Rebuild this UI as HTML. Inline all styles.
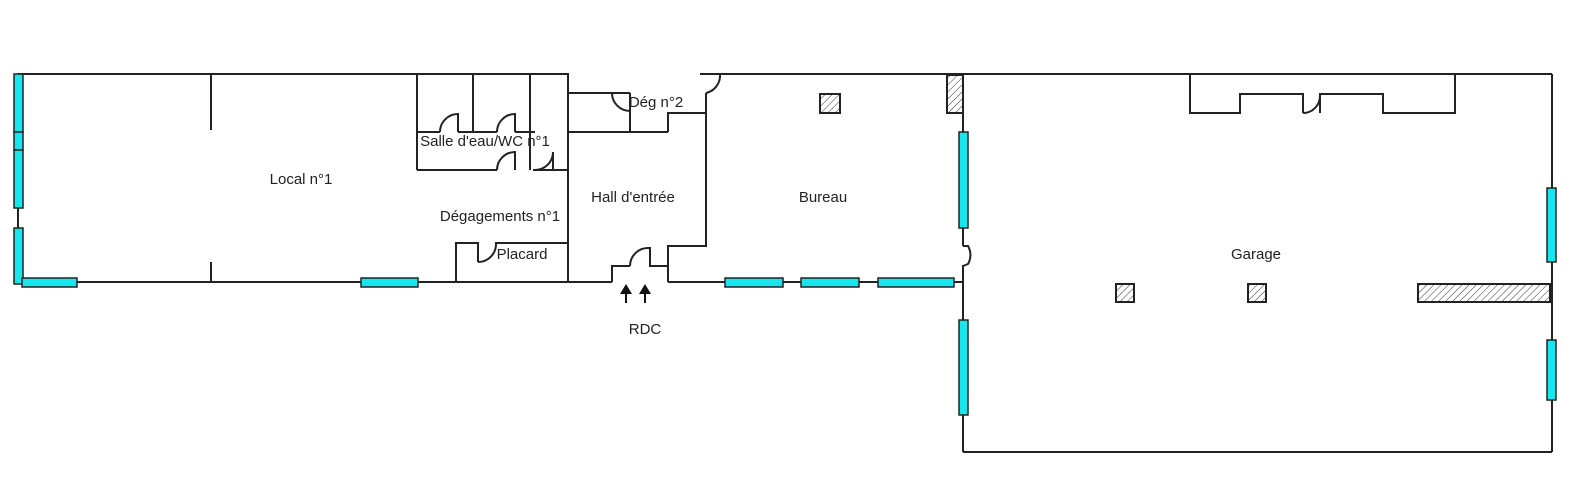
<!DOCTYPE html>
<html><head><meta charset="utf-8"><style>
html,body{margin:0;padding:0;background:#fff;width:1582px;height:480px;overflow:hidden;}
svg{display:block;}
text{font-family:"Liberation Sans",sans-serif;font-size:15px;fill:#222;}
</style></head><body>
<svg width="1582" height="480" viewBox="0 0 1582 480" xmlns="http://www.w3.org/2000/svg">
<defs>
<pattern id="h" width="5" height="5" patternUnits="userSpaceOnUse" patternTransform="rotate(45)">
<rect width="5" height="5" fill="#fff"/><line x1="0" y1="0" x2="0" y2="5" stroke="#333" stroke-width="1"/>
</pattern>
</defs>
<g stroke="#222" stroke-width="2" fill="none">
<polyline points="18,74 568,74 568,282"/>
<line x1="18" y1="74" x2="18" y2="282"/>
<line x1="18" y1="282" x2="612" y2="282"/>
<line x1="211" y1="74" x2="211" y2="130"/>
<line x1="211" y1="262" x2="211" y2="282"/>
<line x1="417" y1="74" x2="417" y2="170"/>
<line x1="473" y1="74" x2="473" y2="132"/>
<line x1="530" y1="74" x2="530" y2="170"/>
<line x1="417" y1="132" x2="440" y2="132"/>
<path d="M440,132 A18,18 0 0 1 458,114 L458,132"/>
<line x1="458" y1="132" x2="497" y2="132"/>
<path d="M497,132 A18,18 0 0 1 515,114 L515,132"/>
<line x1="515" y1="132" x2="535" y2="132"/>
<line x1="417" y1="170" x2="497" y2="170"/>
<path d="M497,170 A18,18 0 0 1 515,152 L515,170"/>
<path d="M535,170 A18,18 0 0 0 553,152 L553,170 M533,170 L568,170"/>
<polyline points="456,282 456,243 478,243 478,262"/>
<path d="M478,262 A18,18 0 0 0 496,243 L568,243"/>
<line x1="568" y1="93" x2="630" y2="93"/>
<path d="M612,93 A18,18 0 0 0 630,111"/>
<line x1="630" y1="93" x2="630" y2="132"/>
<line x1="568" y1="132" x2="668" y2="132"/>
<polyline points="668,132 668,113 706,113 706,93"/>
<path d="M706,93 A18,18 0 0 0 720,74"/>
<line x1="700" y1="74" x2="1552" y2="74"/>
<polyline points="706,113 706,246 668,246 668,282"/>
<polyline points="612,282 612,266 630,266"/>
<path d="M630,266 A18,18 0 0 1 648,248 L650,248 650,266 668,266"/>
<line x1="668" y1="282" x2="963" y2="282"/>
<line x1="963" y1="74" x2="963" y2="246"/>
<path d="M963,246 L968,246 A18,18 0 0 1 968,264 L963,266"/>
<line x1="963" y1="265" x2="963" y2="452"/>
<line x1="963" y1="452" x2="1552" y2="452"/>
<line x1="1552" y1="74" x2="1552" y2="452"/>
<polyline points="1190,74 1190,113 1240,113 1240,94 1303,94 1303,113"/>
<path d="M1303,113 A17,17 0 0 0 1320,96"/>
<polyline points="1320,113 1320,94 1383,94 1383,113 1455,113 1455,74"/>
</g>
<g fill="#18e6ee" stroke="#222" stroke-width="1.5">
<rect x="14" y="74" width="9" height="58"/>
<rect x="14" y="132" width="9" height="18"/>
<rect x="14" y="150" width="9" height="58"/>
<rect x="14" y="228" width="9" height="56"/>
<rect x="22" y="278" width="55" height="9"/>
<rect x="361" y="278" width="57" height="9"/>
<rect x="725" y="278" width="58" height="9"/>
<rect x="801" y="278" width="58" height="9"/>
<rect x="878" y="278" width="76" height="9"/>
<rect x="959" y="132" width="9" height="96"/>
<rect x="959" y="320" width="9" height="95"/>
<rect x="1547" y="188" width="9" height="74"/>
<rect x="1547" y="340" width="9" height="60"/>
</g>
<g fill="url(#h)" stroke="#222" stroke-width="2">
<rect x="820" y="94" width="20" height="19"/>
<rect x="947" y="75" width="16" height="38"/>
<rect x="1116" y="284" width="18" height="18"/>
<rect x="1248" y="284" width="18" height="18"/>
<rect x="1418" y="284" width="132" height="18"/>
</g>
<g fill="#111" stroke="#111" stroke-width="2">
<line x1="626" y1="292" x2="626" y2="303"/><polygon points="620,294 626,284 632,294" stroke="none"/>
<line x1="645" y1="292" x2="645" y2="303"/><polygon points="639,294 645,284 651,294" stroke="none"/>
</g>
<text x="301" y="184" text-anchor="middle">Local n°1</text>
<text x="485" y="146" text-anchor="middle">Salle d'eau/WC n°1</text>
<text x="500" y="221" text-anchor="middle">Dégagements n°1</text>
<text x="522" y="259" text-anchor="middle">Placard</text>
<text x="656" y="107" text-anchor="middle">Dég n°2</text>
<text x="633" y="202" text-anchor="middle">Hall d'entrée</text>
<text x="823" y="202" text-anchor="middle">Bureau</text>
<text x="1256" y="259" text-anchor="middle">Garage</text>
<text x="645" y="334" text-anchor="middle">RDC</text>
</svg>
</body></html>
